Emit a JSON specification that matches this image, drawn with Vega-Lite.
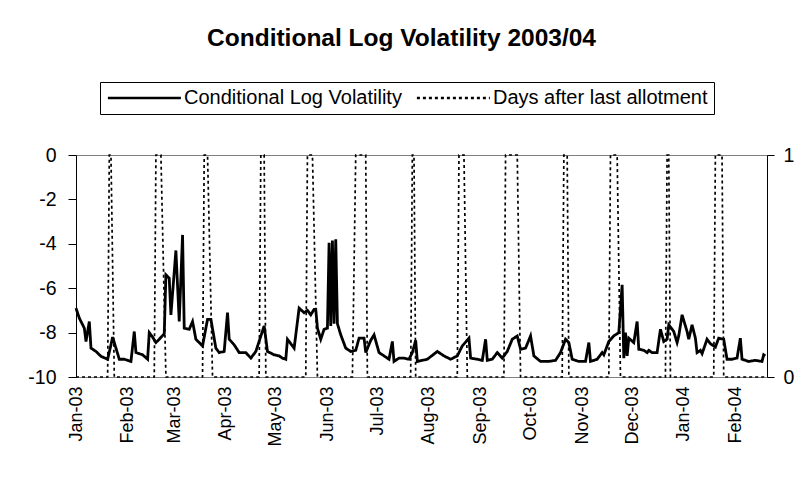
{
  "$schema": "https://vega.github.io/schema/vega-lite/v6.json",
  "autosize": {"type": "none"},
  "padding": {"left": 76, "top": 155, "right": 36, "bottom": 108},
  "width": 691,
  "height": 222,
  "background": "white",
  "title": {
    "text": "Conditional Log Volatility 2003/04",
    "font": "Liberation Sans",
    "fontSize": 24.5,
    "fontWeight": "bold",
    "color": "black",
    "anchor": "middle",
    "frame": "group",
    "dx": -20,
    "offset": 30
  },
  "config": {
    "view": {"stroke": "#808080", "strokeWidth": 1},
    "axis": {"labelFont": "Liberation Sans", "labelFontSize": 19.5, "labelColor": "black", "grid": false, "title": null},
    "legend": {"labelFont": "Liberation Sans", "labelFontSize": 20, "labelColor": "black"}
  },
  "datasets": {
    "vol": [
      {"date": "2003-01-01", "v": -6.9}, {"date": "2003-01-03", "v": -7.35}, {"date": "2003-01-06", "v": -7.8},
      {"date": "2003-01-07", "v": -8.4}, {"date": "2003-01-09", "v": -7.5}, {"date": "2003-01-10", "v": -8.7},
      {"date": "2003-01-13", "v": -8.85}, {"date": "2003-01-16", "v": -9.07}, {"date": "2003-01-20", "v": -9.2},
      {"date": "2003-01-22", "v": -8.55}, {"date": "2003-01-23", "v": -8.2}, {"date": "2003-01-27", "v": -9.2},
      {"date": "2003-01-30", "v": -9.2}, {"date": "2003-02-03", "v": -9.3}, {"date": "2003-02-05", "v": -7.95},
      {"date": "2003-02-06", "v": -8.9}, {"date": "2003-02-10", "v": -9.0}, {"date": "2003-02-13", "v": -9.2},
      {"date": "2003-02-14", "v": -8.0}, {"date": "2003-02-16", "v": -8.2}, {"date": "2003-02-18", "v": -8.45},
      {"date": "2003-02-20", "v": -8.3}, {"date": "2003-02-23", "v": -8.05}, {"date": "2003-02-24", "v": -5.4},
      {"date": "2003-02-26", "v": -5.55}, {"date": "2003-02-27", "v": -7.2}, {"date": "2003-03-02", "v": -4.3},
      {"date": "2003-03-04", "v": -7.5}, {"date": "2003-03-06", "v": -3.6}, {"date": "2003-03-07", "v": -7.8},
      {"date": "2003-03-10", "v": -7.85}, {"date": "2003-03-12", "v": -7.5}, {"date": "2003-03-14", "v": -8.3},
      {"date": "2003-03-18", "v": -8.6}, {"date": "2003-03-21", "v": -7.4}, {"date": "2003-03-23", "v": -7.4},
      {"date": "2003-03-26", "v": -8.7}, {"date": "2003-03-28", "v": -8.9}, {"date": "2003-03-31", "v": -8.85},
      {"date": "2003-04-02", "v": -7.1}, {"date": "2003-04-03", "v": -8.3}, {"date": "2003-04-06", "v": -8.55},
      {"date": "2003-04-09", "v": -8.9}, {"date": "2003-04-13", "v": -8.9}, {"date": "2003-04-16", "v": -9.15},
      {"date": "2003-04-19", "v": -8.85}, {"date": "2003-04-24", "v": -7.7}, {"date": "2003-04-26", "v": -8.85},
      {"date": "2003-04-30", "v": -9.0}, {"date": "2003-05-03", "v": -9.05}, {"date": "2003-05-05", "v": -9.15},
      {"date": "2003-05-07", "v": -9.2}, {"date": "2003-05-08", "v": -8.3}, {"date": "2003-05-12", "v": -8.7},
      {"date": "2003-05-15", "v": -6.9}, {"date": "2003-05-18", "v": -7.1}, {"date": "2003-05-20", "v": -7.0},
      {"date": "2003-05-22", "v": -7.2}, {"date": "2003-05-24", "v": -6.95}, {"date": "2003-05-25", "v": -6.95},
      {"date": "2003-05-26", "v": -7.8}, {"date": "2003-05-28", "v": -8.3}, {"date": "2003-05-30", "v": -7.85},
      {"date": "2003-06-01", "v": -7.8}, {"date": "2003-06-02", "v": -3.95}, {"date": "2003-06-03", "v": -7.7},
      {"date": "2003-06-04", "v": -3.85}, {"date": "2003-06-05", "v": -7.6}, {"date": "2003-06-06", "v": -3.8},
      {"date": "2003-06-07", "v": -7.6}, {"date": "2003-06-09", "v": -8.1}, {"date": "2003-06-12", "v": -8.7},
      {"date": "2003-06-15", "v": -8.85}, {"date": "2003-06-18", "v": -8.8}, {"date": "2003-06-20", "v": -8.25},
      {"date": "2003-06-23", "v": -8.25}, {"date": "2003-06-24", "v": -8.9}, {"date": "2003-06-27", "v": -8.35},
      {"date": "2003-06-29", "v": -8.1}, {"date": "2003-07-02", "v": -8.9}, {"date": "2003-07-05", "v": -9.05},
      {"date": "2003-07-08", "v": -9.2}, {"date": "2003-07-10", "v": -8.4}, {"date": "2003-07-11", "v": -9.3},
      {"date": "2003-07-14", "v": -9.15}, {"date": "2003-07-17", "v": -9.15}, {"date": "2003-07-20", "v": -9.2},
      {"date": "2003-07-22", "v": -8.9}, {"date": "2003-07-24", "v": -8.35}, {"date": "2003-07-25", "v": -9.3},
      {"date": "2003-07-28", "v": -9.25}, {"date": "2003-07-31", "v": -9.2}, {"date": "2003-08-06", "v": -8.85},
      {"date": "2003-08-10", "v": -9.05}, {"date": "2003-08-14", "v": -9.2}, {"date": "2003-08-18", "v": -9.05},
      {"date": "2003-08-21", "v": -8.6}, {"date": "2003-08-25", "v": -8.25}, {"date": "2003-08-26", "v": -9.15},
      {"date": "2003-08-30", "v": -9.2}, {"date": "2003-09-02", "v": -9.25}, {"date": "2003-09-04", "v": -8.3},
      {"date": "2003-09-05", "v": -9.25}, {"date": "2003-09-08", "v": -9.2}, {"date": "2003-09-11", "v": -8.9},
      {"date": "2003-09-14", "v": -9.15}, {"date": "2003-09-17", "v": -8.85}, {"date": "2003-09-20", "v": -8.3},
      {"date": "2003-09-23", "v": -8.15}, {"date": "2003-09-25", "v": -8.75}, {"date": "2003-09-28", "v": -8.7},
      {"date": "2003-10-01", "v": -8.15}, {"date": "2003-10-03", "v": -9.05}, {"date": "2003-10-07", "v": -9.3},
      {"date": "2003-10-12", "v": -9.3}, {"date": "2003-10-16", "v": -9.25}, {"date": "2003-10-19", "v": -8.9},
      {"date": "2003-10-22", "v": -8.3}, {"date": "2003-10-24", "v": -8.45}, {"date": "2003-10-26", "v": -9.2},
      {"date": "2003-10-30", "v": -9.3}, {"date": "2003-11-03", "v": -9.3}, {"date": "2003-11-05", "v": -8.45},
      {"date": "2003-11-06", "v": -9.3}, {"date": "2003-11-10", "v": -9.2}, {"date": "2003-11-13", "v": -8.9},
      {"date": "2003-11-14", "v": -9.0}, {"date": "2003-11-17", "v": -8.4}, {"date": "2003-11-20", "v": -8.15},
      {"date": "2003-11-23", "v": -8.0}, {"date": "2003-11-25", "v": -5.85}, {"date": "2003-11-26", "v": -9.15},
      {"date": "2003-11-27", "v": -8.0}, {"date": "2003-11-28", "v": -9.05}, {"date": "2003-11-29", "v": -8.25},
      {"date": "2003-12-02", "v": -8.45}, {"date": "2003-12-04", "v": -7.5}, {"date": "2003-12-05", "v": -8.75},
      {"date": "2003-12-08", "v": -8.8}, {"date": "2003-12-10", "v": -8.9}, {"date": "2003-12-11", "v": -8.8},
      {"date": "2003-12-13", "v": -8.9}, {"date": "2003-12-16", "v": -8.9}, {"date": "2003-12-18", "v": -7.85},
      {"date": "2003-12-20", "v": -8.4}, {"date": "2003-12-22", "v": -8.3}, {"date": "2003-12-23", "v": -7.65},
      {"date": "2003-12-26", "v": -7.95}, {"date": "2003-12-28", "v": -8.45}, {"date": "2003-12-29", "v": -8.15},
      {"date": "2003-12-31", "v": -7.2}, {"date": "2004-01-03", "v": -7.95}, {"date": "2004-01-04", "v": -8.3},
      {"date": "2004-01-06", "v": -7.65}, {"date": "2004-01-08", "v": -8.25}, {"date": "2004-01-09", "v": -8.9},
      {"date": "2004-01-11", "v": -8.8}, {"date": "2004-01-12", "v": -8.95}, {"date": "2004-01-15", "v": -8.3},
      {"date": "2004-01-17", "v": -8.5}, {"date": "2004-01-20", "v": -8.65}, {"date": "2004-01-22", "v": -8.25},
      {"date": "2004-01-25", "v": -8.3}, {"date": "2004-01-27", "v": -9.2}, {"date": "2004-01-30", "v": -9.2},
      {"date": "2004-02-02", "v": -9.15}, {"date": "2004-02-04", "v": -8.25}, {"date": "2004-02-05", "v": -9.2},
      {"date": "2004-02-09", "v": -9.3}, {"date": "2004-02-13", "v": -9.25}, {"date": "2004-02-17", "v": -9.3},
      {"date": "2004-02-18", "v": -9.0}, {"date": "2004-02-19", "v": -9.05}
    ],
    "allot": [
      {"date": "2003-01-01", "a": 0},
      {"date": "2003-01-20", "a": 0}, {"date": "2003-01-21", "a": 1}, {"date": "2003-01-22", "a": 1}, {"date": "2003-01-24", "a": 0},
      {"date": "2003-02-17", "a": 0}, {"date": "2003-02-18", "a": 1}, {"date": "2003-02-21", "a": 1}, {"date": "2003-02-24", "a": 0},
      {"date": "2003-03-18", "a": 0}, {"date": "2003-03-19", "a": 1}, {"date": "2003-03-21", "a": 1}, {"date": "2003-03-24", "a": 0},
      {"date": "2003-04-21", "a": 0}, {"date": "2003-04-22", "a": 1}, {"date": "2003-04-24", "a": 1}, {"date": "2003-04-25", "a": 0},
      {"date": "2003-05-19", "a": 0}, {"date": "2003-05-20", "a": 1}, {"date": "2003-05-23", "a": 1}, {"date": "2003-05-26", "a": 0},
      {"date": "2003-06-16", "a": 0}, {"date": "2003-06-18", "a": 1}, {"date": "2003-06-24", "a": 1}, {"date": "2003-06-25", "a": 0},
      {"date": "2003-07-21", "a": 0}, {"date": "2003-07-22", "a": 1}, {"date": "2003-07-23", "a": 1}, {"date": "2003-07-24", "a": 0},
      {"date": "2003-08-18", "a": 0}, {"date": "2003-08-19", "a": 1}, {"date": "2003-08-22", "a": 1}, {"date": "2003-08-24", "a": 0},
      {"date": "2003-09-15", "a": 0}, {"date": "2003-09-16", "a": 1}, {"date": "2003-09-23", "a": 1}, {"date": "2003-09-25", "a": 0},
      {"date": "2003-10-20", "a": 0}, {"date": "2003-10-21", "a": 1}, {"date": "2003-10-23", "a": 1}, {"date": "2003-10-24", "a": 0},
      {"date": "2003-11-17", "a": 0}, {"date": "2003-11-18", "a": 1}, {"date": "2003-11-22", "a": 1}, {"date": "2003-11-24", "a": 0},
      {"date": "2003-12-21", "a": 0}, {"date": "2003-12-22", "a": 1}, {"date": "2003-12-23", "a": 1}, {"date": "2003-12-24", "a": 0},
      {"date": "2004-01-19", "a": 0}, {"date": "2004-01-20", "a": 1}, {"date": "2004-01-24", "a": 1}, {"date": "2004-01-25", "a": 0},
      {"date": "2004-02-20", "a": 0}
    ]
  },
  "layer": [
    {
      "data": {"name": "vol"},
      "mark": {"type": "line", "color": "black", "strokeWidth": 2.8},
      "encoding": {
        "x": {
          "field": "date", "type": "temporal",
          "scale": {"type": "utc", "domain": ["2003-01-01", "2004-02-20"]},
          "axis": {"format": "%b-%y", "labelAngle": -90, "tickCount": {"interval": "month", "step": 1},
                   "labelFontSize": 18,
                   "ticks": false, "labelPadding": 9, "domainColor": "#808080", "labelFlush": false, "labelOverlap": false}
        },
        "y": {
          "field": "v", "type": "quantitative",
          "scale": {"domain": [-10, 0], "nice": false},
          "axis": {"orient": "left", "values": [-10, -8, -6, -4, -2, 0], "labelExpr": "'' + datum.value",
                   "tickColor": "black", "tickSize": 8, "domainColor": "black", "labelPadding": 12}
        },
        "strokeDash": {
          "datum": "Conditional Log Volatility",
          "scale": {"domain": ["Conditional Log Volatility", "Days after last allotment"], "range": [[1, 0], [3, 3]]},
          "legend": {
            "title": null, "orient": "none", "legendX": 24, "legendY": -73, "direction": "horizontal",
            "strokeColor": "black", "padding": 6, "symbolType": "M-1,0H8", "symbolSize": 263,
            "symbolStrokeWidth": 2.5, "symbolStrokeColor": "black", "labelLimit": 400, "columnPadding": 9, "labelOffset": 58
          }
        }
      }
    },
    {
      "data": {"name": "allot"},
      "mark": {"type": "line", "color": "black", "strokeWidth": 1.7},
      "encoding": {
        "x": {"field": "date", "type": "temporal"},
        "y": {
          "field": "a", "type": "quantitative",
          "scale": {"domain": [0, 1], "nice": false},
          "axis": {"orient": "right", "values": [0, 1], "format": "d", "tickColor": "black", "tickSize": 7,
                   "domainColor": "black", "labelPadding": 9}
        },
        "strokeDash": {"datum": "Days after last allotment"}
      }
    }
  ],
  "resolve": {"scale": {"y": "independent"}}
}
